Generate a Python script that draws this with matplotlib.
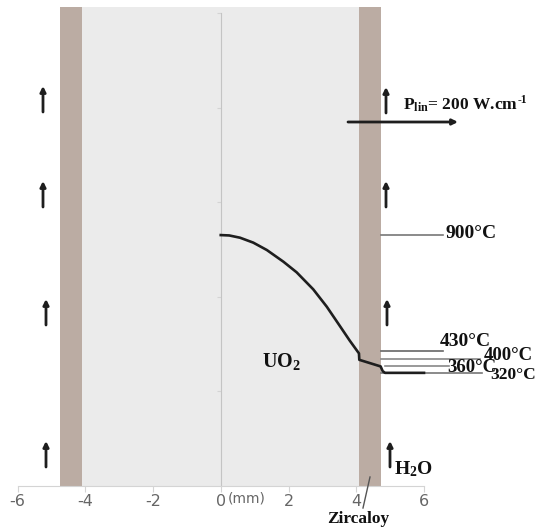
import matplotlib
matplotlib.use("Agg")
import matplotlib.pyplot as plt
from matplotlib.patches import Rectangle, FancyArrowPatch

plt.rcParams["mathtext.fontset"] = "custom"
plt.rcParams["mathtext.rm"] = "Liberation Serif:bold"
plt.rcParams["mathtext.bf"] = "Liberation Serif:bold"

W, H = 536, 530
AX_L, AX_R, AX_T, AX_B = 17.5, 424.0, 13.0, 485.5

# data: radial position (mm) / temperature (deg C)
radius = [0.0, 0.25, 0.57, 0.96, 1.36, 1.85, 2.24, 2.73, 3.13, 3.52, 3.81, 4.08, 4.09, 4.72, 4.78, 4.85, 6.0]
temperature = [1325, 1323, 1311, 1285, 1246, 1184, 1128, 1038, 946, 843, 766, 699, 665, 630, 605, 596, 596]
x_ticks = [-6, -4, -2, 0, 2, 4, 6]
x_tick_labels = ["-6", "-4", "-2", "0", "2", "4", "6"]
y_ticks = [500, 1000, 1500, 2000, 2500]
leader_temps = [1325, 710, 671, 631, 594]
leader_ends = [6.56, 6.57, 7.65, 6.75, 7.72]
leader_starts = [4.73, 4.73, 4.73, 4.85, 4.73]
leader_colors = ["#777777", "#666666", "#888888", "#888888", "#777777"]
label_texts = ["900°C", "430°C", "400°C", "360°C", "320°C"]
clad_left = (-4.76, -4.10)
clad_right = (4.08, 4.73)
background_top = 2530

fig = plt.figure(figsize=(W / 100, H / 100), dpi=100)
ax = fig.add_axes([AX_L / W, 1 - AX_B / H, (AX_R - AX_L) / W, (AX_B - AX_T) / H])
ax.set_xlim(-6, 6)
ax.set_ylim(0, 2500)
ax.add_patch(Rectangle((clad_left[1], 0), clad_right[0] - clad_left[1], background_top,
                       color="#ebebeb", lw=0, zorder=0, clip_on=False))
for lo, hi in (clad_left, clad_right):
    ax.add_patch(Rectangle((lo, 0), hi - lo, background_top, color="#bbaca3", lw=0, zorder=1, clip_on=False))

ax.spines["top"].set_visible(False)
ax.spines["right"].set_visible(False)
ax.spines["left"].set_position(("data", 0))
ax.spines["left"].set_color("#c4c4c4")
ax.spines["left"].set_zorder(2)
ax.spines["bottom"].set_color("#d4d4d4")
ax.set_xticks(x_ticks, x_tick_labels)
ax.set_yticks(y_ticks, [""] * len(y_ticks))
ax.tick_params(axis="x", direction="out", length=4, color="#d4d4d4", labelcolor="#666666", labelsize=11.5, pad=2)
ax.tick_params(axis="y", direction="out", length=3, color="#d4d4d4")

ax.plot(radius, temperature, color="#1e1e1e", lw=1.9, zorder=5, clip_on=False)

for x0, x1, t, c in zip(leader_starts, leader_ends, leader_temps, leader_colors):
    ax.plot([x0, x1], [t, t], color=c, lw=1.2, zorder=4, clip_on=False)

serif = "Liberation Serif"
label_pos = [(446, 233, 14), (440, 342, 14), (484, 355, 13.5), (447, 367, 13.5), (490, 375, 12.5)]
for (px, py, fs), s in zip(label_pos, label_texts):
    fig.text(px / W, 1 - py / H, s, family=serif, weight="bold", fontsize=fs, color="#111111", va="center", ha="left")

fig.text(403 / W, 1 - 105 / H, r"$\mathbf{P_{lin}}$= 200 W.cm", family=serif, weight="bold", fontsize=12.5, color="#111111", va="center")
fig.text(518 / W, 1 - 100 / H, "-1", family=serif, weight="bold", fontsize=8.5, color="#111111", va="center")
fig.text(262 / W, 1 - 362 / H, r"$\mathbf{UO_2}$", family=serif, weight="bold", fontsize=14.5, color="#111111", va="center")
fig.text(394 / W, 1 - 469 / H, r"$\mathbf{H_2O}$", family=serif, weight="bold", fontsize=14, color="#111111", va="center")
fig.text(327 / W, 1 - 519 / H, "Zircaloy", family=serif, weight="bold", fontsize=12.5, color="#111111", va="center")
fig.text(228 / W, 1 - 498 / H, "(mm)", family="DejaVu Sans", fontsize=10, color="#666666", va="center")


def arrow(x0, y0, x1, y1, lw=2):
    fig.add_artist(FancyArrowPatch(
        (x0 / W, 1 - y0 / H), (x1 / W, 1 - y1 / H), transform=fig.transFigure,
        arrowstyle="-|>", mutation_scale=8, lw=lw, color="#1e1e1e", shrinkA=0, shrinkB=0, zorder=10))


for x, y in [(43, 112), (43, 207), (46, 325), (46, 467), (386, 113), (386, 207), (387, 325), (390, 467)]:
    arrow(x, y, x, y - 26)
arrow(348, 122, 458, 122)
fig.add_artist(plt.Line2D([363 / W, 370 / W], [1 - 508 / H, 1 - 477 / H], color="#555555", lw=1))

fig.savefig("out.png", dpi=100)
